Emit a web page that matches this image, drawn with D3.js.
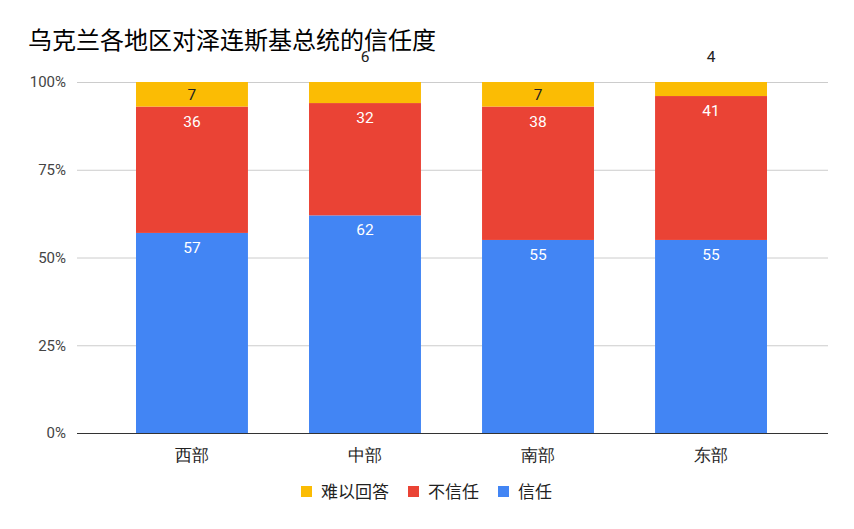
<!DOCTYPE html>
<html><head><meta charset="utf-8">
<script src="https://cdn.jsdelivr.net/npm/d3@7"></script>
<style>body{margin:0;background:#fff}svg{display:block;font-family:"Noto Sans CJK SC",Roboto,sans-serif}</style>
</head><body>
<script>
const categories = ["西部","中部","南部","东部"];
const trust = [57,62,55,55];
const distrust = [36,32,38,41];
const unsure = [7,6,7,4];
const seriesNames = ["信任","不信任","难以回答"];
const seriesColors = ["#4285F4","#EA4335","#FBBC04"];
const yTicks = [0,25,50,75,100];

const W=854,H=529;
const svg=d3.select("body").append("svg").attr("width",W).attr("height",H);
svg.append("rect").attr("width",W).attr("height",H).attr("fill","#fff");

const x=d3.scaleBand().domain(categories).range([136,767]).paddingInner(0.353).paddingOuter(0);
const y=d3.scaleLinear().domain([0,100]).range([433,82]);

svg.append("text").attr("x",28).attr("y",49).attr("font-size",24).attr("font-weight",400).attr("fill","#000")
  .text("乌克兰各地区对泽连斯基总统的信任度");

// grid
svg.selectAll(".grid").data(yTicks.filter(d=>d>0)).join("line")
  .attr("x1",77).attr("x2",828).attr("y1",d=>y(d)+0.5).attr("y2",d=>y(d)+0.5).attr("stroke","#ccc").attr("stroke-width",1);
const yAxis=d3.axisLeft(y).tickValues(yTicks).tickFormat(d=>d+"%").tickSize(0).tickPadding(0);
const ga=svg.append("g").attr("transform","translate(66,0)").call(yAxis);
ga.select(".domain").remove();
ga.selectAll("text").attr("font-size",15).attr("fill","#444").attr("font-family","Roboto,sans-serif");

const stackData=categories.map((c,i)=>({cat:c,"信任":trust[i],"不信任":distrust[i],"难以回答":unsure[i]}));
const stack=d3.stack().keys(seriesNames)(stackData);

stack.forEach((s,si)=>{
  svg.append("g").selectAll("rect").data(s).join("rect")
    .attr("x",d=>x(d.data.cat)).attr("width",x.bandwidth())
    .attr("y",d=>y(d[1])).attr("height",d=>y(d[0])-y(d[1]))
    .attr("fill",seriesColors[si]);
});
// labels
stack.forEach((s,si)=>{
  svg.append("g").selectAll("text").data(s).join("text")
    .attr("x",d=>x(d.data.cat)+x.bandwidth()/2)
    .attr("y",d=>{
      const v=d[1]-d[0];
      if(si===2){ return v<7 ? y(100)-20 : (y(d[1])+y(d[0]))/2+6; }
      return y(d[1])+20;
    })
    .attr("text-anchor","middle").attr("font-size",15.5).attr("font-family","Roboto,sans-serif")
    .attr("fill",si===2?"#222":"#fff")
    .text(d=>d[1]-d[0]);
});

// baseline
svg.append("line").attr("x1",77).attr("x2",828).attr("y1",433.5).attr("y2",433.5).attr("stroke","#333").attr("stroke-width",1);

// x labels
const xAxis=d3.axisBottom(x).tickSize(0).tickPadding(0);
const gx=svg.append("g").attr("transform","translate(0,446)").call(xAxis);
gx.select(".domain").remove();
gx.selectAll("text").attr("font-size",17).attr("fill","#222").attr("dy","0.9em");

// legend
const legendItems=[{n:"难以回答",c:seriesColors[2],x:301},{n:"不信任",c:seriesColors[1],x:408},{n:"信任",c:seriesColors[0],x:498}];
const lg=svg.append("g");
legendItems.forEach(it=>{
  lg.append("rect").attr("x",it.x).attr("y",486).attr("width",11).attr("height",11).attr("fill",it.c);
  lg.append("text").attr("x",it.x+20).attr("y",498).attr("font-size",17).attr("fill","#222").text(it.n);
});
</script>
</body></html>
